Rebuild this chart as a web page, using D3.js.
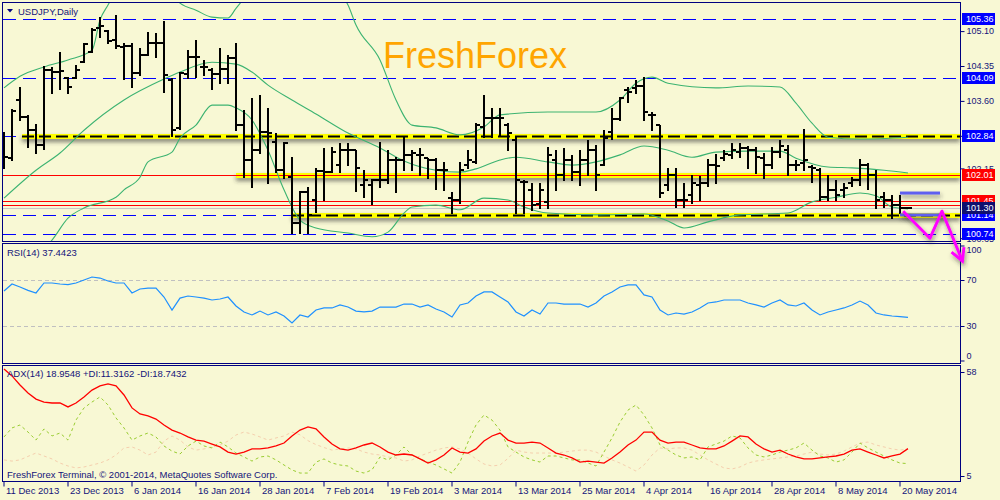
<!DOCTYPE html>
<html><head><meta charset="utf-8">
<script src="https://cdn.jsdelivr.net/npm/d3@7"></script>
<style>html,body{margin:0;padding:0;background:#F8F8D4;} svg{display:block;font-family:"Liberation Sans",Arial,sans-serif;}</style>
</head><body><svg id="c" width="1000" height="500"></svg>
<script>
// ---------------- DATA ----------------
const symbolTitle = "USDJPY,Daily";
const watermark = "FreshForex";
const copyright = "FreshForex Terminal, \u00A9 2001-2014, MetaQuotes Software Corp.";
const rsiTitle = "RSI(14) 37.4423";
const adxTitle = "ADX(14) 18.9548 +DI:11.3162 -DI:18.7432";

const xTickIdx = [0,8,16,24,32,40,48,56,64,72,80,88,96,104,112];
const xTickLabels = ["11 Dec 2013","23 Dec 2013","6 Jan 2014","16 Jan 2014","28 Jan 2014","7 Feb 2014","19 Feb 2014","3 Mar 2014","13 Mar 2014","25 Mar 2014","4 Apr 2014","16 Apr 2014","28 Apr 2014","8 May 2014","20 May 2014"];
const priceTicks = [105.10,104.35,103.60,102.85,102.15,100.65];
const rsiTicks = [100,70,30,0];
const rsiLevels = [70,30];
const adxTicks = [58,5];

const highs = [102.93,103.42,103.90,103.30,103.10,104.35,104.33,104.65,104.11,104.37,
104.84,105.16,105.40,105.12,105.44,104.84,104.84,104.74,105.08,105.06,
105.31,104.09,104.22,104.69,104.91,104.48,104.31,104.74,104.58,104.84,
103.40,103.66,103.73,103.45,102.91,102.72,102.39,101.66,101.75,102.16,
102.59,102.61,102.69,102.69,102.54,102.11,101.92,102.72,102.54,102.39,
102.85,102.54,102.59,102.37,102.37,102.29,101.64,102.29,102.54,103.12,
103.73,103.45,103.45,103.12,102.82,101.90,101.84,101.84,102.61,102.54,
102.59,102.44,102.54,102.76,102.65,102.97,103.45,103.68,103.90,104.05,
104.11,103.36,103.08,102.16,102.16,101.84,102.01,101.99,102.35,102.46,
102.54,102.69,102.69,102.63,102.61,102.48,102.61,102.76,102.65,102.33,
103.00,102.22,102.16,102.01,101.90,101.84,101.96,102.35,102.26,102.11,
101.64,101.58,101.58,101.32];
const lows = [102.16,102.33,103.19,102.61,102.48,102.57,103.77,103.85,103.77,104.09,
104.43,104.65,104.97,104.84,104.74,104.07,103.90,104.16,104.58,104.54,
103.79,102.85,103.00,104.09,104.11,104.16,103.85,103.98,103.98,102.97,
101.96,101.75,102.48,101.84,102.07,101.94,100.76,100.76,100.76,101.21,
101.47,102.07,102.07,102.22,101.66,101.53,101.38,101.75,101.84,101.64,
102.11,102.11,102.01,101.94,101.71,101.69,101.19,101.41,102.16,102.26,
102.82,102.82,102.87,102.54,101.19,101.19,101.26,101.30,101.30,101.69,
101.90,101.90,101.79,102.01,101.69,102.22,102.78,103.19,103.57,103.77,
103.19,102.97,101.53,101.69,101.32,101.32,101.41,101.47,101.77,101.84,
102.33,102.37,102.39,102.16,102.05,101.94,102.16,102.39,102.01,102.11,
102.11,101.86,101.47,101.47,101.47,101.53,101.77,101.79,101.71,101.30,
101.32,101.08,101.19,101.29];
const opens = [102.54,102.37,103.62,103.25,102.97,102.65,104.26,104.22,104.09,104.09,
104.43,104.65,105.16,105.10,104.91,104.76,104.78,104.20,104.58,104.84,
104.84,104.05,103.02,104.18,104.54,104.33,104.26,104.18,104.28,104.52,
103.08,102.33,102.54,102.93,102.72,102.11,101.96,100.98,101.64,101.47,
102.09,102.07,102.22,102.54,102.54,101.79,101.79,101.90,101.90,102.33,
102.33,102.44,102.44,102.37,102.33,102.11,101.51,101.47,102.22,102.29,
103.04,103.23,103.23,103.08,102.76,101.86,101.69,101.38,101.43,102.33,
102.01,102.33,102.07,102.33,102.54,102.22,102.93,103.21,103.83,103.88,
103.92,103.30,103.08,101.79,102.01,101.47,101.58,101.79,101.84,102.22,
102.37,102.44,102.50,102.59,102.54,102.37,102.22,102.50,102.54,102.22,
102.26,102.18,102.11,101.53,101.69,101.69,101.84,101.90,102.22,102.01,
101.53,101.47,101.36,101.30];
const closes = [102.39,103.38,103.25,102.97,102.65,104.26,104.22,104.24,103.90,104.26,
104.82,105.12,105.21,104.89,104.78,104.78,104.20,104.58,104.84,104.84,
104.16,102.97,104.20,104.54,104.54,104.33,104.18,104.28,104.52,103.08,
102.33,102.54,102.93,102.91,102.11,102.69,100.98,101.64,101.15,102.09,
102.07,102.50,102.54,102.54,102.16,101.90,101.90,101.90,102.33,102.33,
102.44,102.48,102.44,102.33,102.11,102.11,101.47,102.11,102.33,103.08,
103.23,103.23,103.23,102.91,101.90,101.86,101.36,101.69,102.44,102.01,
102.33,102.07,102.33,102.54,102.01,102.80,103.21,103.66,103.79,103.92,
103.36,103.30,101.62,102.01,101.47,101.47,101.84,101.84,102.22,102.20,
102.46,102.54,102.59,102.54,102.39,102.22,102.50,102.63,102.22,102.22,
102.33,102.16,101.53,101.69,101.58,101.73,101.90,102.22,102.01,101.47,
101.47,101.36,101.30,101.30];

// Bollinger bands: [bar index, price]
const bbUpper = [[0,103.88],[2,104.13],[5,104.33],[8,104.48],[11,104.69],[12,105.34],[13,105.66],[15,106.2],[18,106.3],[21,105.87],[22,105.7],[24,105.55],[26,105.4],[28,105.38],[29,105.59],[31,105.98],[37,106.41],[41,106.09],[43,105.66],[44,105.23],[47,104.48],[49,103.62],[51,103.08],[54,103.02],[57,102.87],[60,103.04],[62,103.3],[68,103.36],[74,103.36],[77,103.62],[79,103.98],[81,104.11],[83,103.98],[89,103.88],[93,103.92],[97,103.9],[99,103.55],[101,103.12],[103,102.82],[107,102.78],[113,102.82]];
const bbMiddle = [[0,101.51],[4,102.11],[7,102.48],[10,102.97],[15,103.62],[20,104.07],[22,104.22],[26,104.43],[29,104.39],[31,104.22],[33,103.94],[36,103.62],[39,103.32],[43,102.91],[47,102.59],[50,102.31],[54,102.11],[57,102.07],[59,102.14],[62,102.33],[64,102.39],[68,102.29],[71,102.22],[74,102.29],[77,102.44],[80,102.63],[83,102.54],[86,102.39],[89,102.5],[93,102.52],[97,102.52],[99,102.37],[103,102.18],[106,102.16],[110,102.11],[113,102.05]];
const bbLower = [[0,99.75],[3,100.14],[6,100.61],[8,101.08],[10,101.3],[14,101.53],[15,101.69],[17,101.96],[18,102.29],[21,102.5],[22,102.8],[24,103.08],[26,103.51],[28,103.51],[29,103.45],[31,103.19],[33,102.54],[35,101.69],[37,101.04],[39,100.87],[43,100.76],[46,100.68],[48,100.78],[50,101.19],[51,101.32],[54,101.36],[57,101.26],[60,101.51],[63,101.47],[65,101.32],[68,101.19],[74,101.15],[80,101.17],[83,101.02],[85,100.87],[88,101.0],[92,101.15],[98,101.19],[101,101.43],[104,101.53],[107,101.62],[109,101.56],[111,101.32],[113,101.28]];

const rsi = [60.4,66.5,63.9,61.0,58.7,67.4,67.4,66.5,66.0,67.4,
70.0,72.6,71.7,69.1,67.4,67.4,58.7,62.2,63.0,63.0,
55.2,43.9,54.3,56.1,55.2,54.3,52.6,53.5,55.2,47.4,
42.2,39.6,43.0,39.6,42.2,38.7,32.6,39.6,37.8,43.9,
45.7,45.7,48.3,46.5,43.0,42.2,43.0,46.5,46.5,46.5,
49.1,49.1,46.5,48.3,44.8,42.2,37.8,48.3,50.0,56.1,
59.6,59.6,55.2,50.9,42.2,38.7,43.9,40.4,50.0,50.0,
49.1,49.1,49.1,46.5,50.0,56.1,59.6,63.9,65.7,65.7,
57.0,55.2,43.9,39.6,41.3,40.4,42.2,45.7,50.0,50.9,
52.6,52.6,52.6,50.0,48.3,46.5,50.0,52.6,48.3,47.4,
50.0,43.9,39.6,42.2,43.9,45.7,48.3,51.7,48.3,41.3,
39.6,38.7,38.2,37.44];
const adx = [59.5,56.0,51.4,47.3,44.2,42.7,42.2,42.2,40.2,42.2,
45.3,48.8,50.9,51.9,50.9,46.3,39.7,36.6,35.6,34.0,
31.0,28.4,26.9,24.9,23.3,22.8,21.3,19.8,17.2,16.2,
17.2,18.8,18.8,19.3,20.3,21.8,25.4,28.4,30.0,29.0,
24.9,21.3,18.8,18.2,19.3,20.8,21.8,19.8,17.2,15.7,
16.2,15.7,13.7,11.6,13.2,15.7,19.3,17.2,16.7,18.8,
22.8,25.4,26.9,23.3,21.8,21.8,22.3,21.8,19.3,16.7,
15.7,14.2,12.1,12.6,12.1,11.6,14.2,17.2,20.8,23.3,
27.4,27.4,23.3,21.8,22.3,22.3,20.8,19.3,18.8,18.8,
20.3,22.8,25.4,24.9,21.3,18.8,17.2,18.2,16.2,14.7,
13.7,13.7,14.2,14.7,15.2,16.2,18.2,18.8,17.2,15.7,
14.2,15.2,16.2,18.95];
const plusDI = [24.9,29.5,31.0,27.4,23.3,29.0,25.4,26.9,23.3,33.5,
39.7,42.7,45.3,41.2,34.6,29.5,23.3,25.4,26.9,24.9,
20.3,17.7,16.2,20.3,22.8,20.3,19.3,22.3,19.8,16.7,
14.7,12.6,14.7,15.2,13.2,10.6,8.1,6.5,6.5,12.1,
13.7,11.6,10.6,10.1,7.5,6.5,8.1,14.7,13.2,15.7,
19.8,15.7,13.7,12.1,10.6,8.6,6.5,12.1,22.3,31.0,
36.1,33.5,28.4,19.8,17.2,14.7,13.2,12.1,15.2,15.2,
14.2,13.2,13.2,11.6,10.1,17.2,24.4,32.5,38.6,41.2,
36.1,29.5,20.8,18.2,15.7,14.2,14.7,13.2,19.8,21.3,
22.8,25.4,24.4,19.3,15.7,14.7,15.7,17.2,18.2,19.3,
21.8,18.2,15.2,14.2,12.1,13.2,17.2,21.8,19.3,17.2,
15.2,13.2,11.6,11.32];
const minusDI = [13.2,12.6,13.2,15.0,16.7,15.2,13.7,11.6,10.1,9.1,
9.6,10.6,11.6,13.2,15.7,19.3,19.8,18.2,15.7,17.2,
22.8,25.4,23.3,19.8,18.2,18.8,19.8,20.8,22.8,25.9,
27.4,26.4,24.9,23.3,24.4,25.4,27.4,26.0,23.0,21.0,
19.5,18.2,18.8,19.3,18.8,17.2,16.2,15.7,14.7,14.2,
12.6,13.2,15.2,16.7,18.2,19.3,19.8,18.8,16.7,13.7,
11.1,10.1,10.6,14.0,18.2,17.2,16.7,16.7,16.7,16.7,
17.2,17.7,18.2,18.2,17.2,15.2,13.2,11.6,9.6,7.5,
10.6,15.7,19.3,18.8,19.3,19.3,18.2,15.7,13.2,11.1,
9.1,8.6,9.6,11.6,12.6,13.2,13.7,14.2,14.7,15.2,
16.2,17.2,16.2,15.7,16.2,17.7,19.8,21.8,22.3,20.8,
19.8,18.8,18.2,18.74];

// horizontal levels
const blueLevels = [105.36,104.09,102.84,101.14,100.74];
const redLevels = [102.01,101.45,101.36];
const bidLevel = 101.30;
const yellowLevels = [102.84,102.01,101.14];
const yellowStartIdx = [2.25,29,36];
const markedLevels = [105.36,104.09,102.84,102.01,101.45,101.14,101.30,100.74];
const markedKinds  = ["blue","blue","blue","red","red","blue","bid","blue"];
// drawn forecast objects [bar index, price]
const boxTop = [[112,101.62],[117,101.62]];
const boxBottom = [[112,101.15],[117,101.15]];
const zigzag = [[112.4,101.23],[115.75,100.65],[117.25,101.23],[119.8,100.16]];

// ---------------- DRAW ----------------
const BG = '#F8F8D4', NAVY = '#000080', TXT = '#14147a';
const svg = d3.select('#c');
svg.append('rect').attr('width',1000).attr('height',500).attr('fill',BG);
const defs = svg.append('defs');
function clip(id,x0,y0,w,h){defs.append('clipPath').attr('id',id).append('rect').attr('x',x0).attr('y',y0).attr('width',w).attr('height',h);}
clip('cMain',3,3,957,238); clip('cRsi',3,244,957,119); clip('cAdx',3,366,957,115);
function shadow(id,dx,dy,sd,op){
  const f = defs.append('filter').attr('id',id).attr('filterUnits','userSpaceOnUse')
    .attr('x',0).attr('y',0).attr('width',1000).attr('height',500);
  f.append('feDropShadow').attr('dx',dx).attr('dy',dy).attr('stdDeviation',sd).attr('flood-color','#303030').attr('flood-opacity',op);
}
shadow('sh',0,3,2.2,0.6);
shadow('sh2',1,3,2,0.5);

const x = d3.scaleLinear().domain([0,112]).range([4,900]);
const yP = d3.scaleLinear().domain([100.74,105.36]).range([234,19]);
const yR = d3.scaleLinear().domain([0,100]).range([360.5,245.5]);
const yA = d3.scaleLinear().domain([5,58]).range([476,372]);
const R = v => Math.round(v);

// main panel
const gM = svg.append('g').attr('clip-path','url(#cMain)');
gM.selectAll('line.bl').data(blueLevels).join('line')
  .attr('x1',3).attr('x2',960).attr('y1',d=>R(yP(d))+0.5).attr('y2',d=>R(yP(d))+0.5)
  .attr('stroke','#0000ff').attr('stroke-width',1).attr('stroke-dasharray','13,7');
gM.selectAll('line.rl').data(redLevels).join('line')
  .attr('x1',3).attr('x2',960).attr('y1',d=>R(yP(d))+0.5).attr('y2',d=>R(yP(d))+0.5)
  .attr('stroke','#ff0000').attr('stroke-width',1);
gM.append('line').attr('x1',3).attr('x2',960).attr('y1',R(yP(bidLevel))+0.5).attr('y2',R(yP(bidLevel))+0.5)
  .attr('stroke','#c8c8c8').attr('stroke-width',1);
// yellow trendlines
yellowLevels.forEach((lv,k)=>{
  const yy = R(yP(lv)), x0 = x(yellowStartIdx[k]);
  gM.append('rect').attr('x',x0).attr('width',960-x0).attr('y',yy-2).attr('height',5)
    .attr('fill','#ffff00').attr('filter','url(#sh)');
  if (k===1) gM.append('line').attr('x1',3).attr('x2',960).attr('y1',yy+0.5).attr('y2',yy+0.5).attr('stroke','#ff0000').attr('stroke-width',1.2);
  else gM.append('line').attr('x1',x0).attr('x2',960).attr('y1',yy+0.5).attr('y2',yy+0.5).attr('stroke','#000').attr('stroke-width',2).attr('stroke-dasharray','12,5');
});
// bollinger
const bbLine = d3.line().x(d=>x(d[0])).y(d=>yP(d[1])).curve(d3.curveMonotoneX);
[bbUpper,bbMiddle,bbLower].forEach(s=>gM.append('path').attr('d',bbLine(s)).attr('fill','none').attr('stroke','#3cb371').attr('stroke-width',1.1));
// bars
const gB = gM.append('g').attr('stroke','#000').attr('stroke-width',2).attr('shape-rendering','crispEdges');
const idx = d3.range(highs.length);
gB.selectAll('line.hl').data(idx).join('line').attr('x1',i=>R(x(i))).attr('x2',i=>R(x(i)))
  .attr('y1',i=>R(yP(highs[i]))).attr('y2',i=>R(yP(lows[i]))+1);
gB.selectAll('line.op').data(idx).join('line').attr('x1',i=>R(x(i))-4).attr('x2',i=>R(x(i)))
  .attr('y1',i=>R(yP(opens[i]))).attr('y2',i=>R(yP(opens[i])));
gB.selectAll('line.cl').data(idx).join('line').attr('x1',i=>R(x(i))).attr('x2',i=>R(x(i))+4)
  .attr('y1',i=>R(yP(closes[i]))).attr('y2',i=>R(yP(closes[i])));
// forecast box lines
[boxTop,boxBottom].forEach(s=>{
  const yy = yP(s[0][1]);
  gM.append('rect').attr('x',x(s[0][0])).attr('width',x(s[1][0])-x(s[0][0])).attr('y',yy-1.5).attr('height',3)
    .attr('fill','#5f5ff0').attr('filter','url(#sh2)');
});

// watermark
svg.append('text').attr('x',383).attr('y',68).attr('font-size',36).attr('fill','#ffa500').text(watermark);

// panel borders
svg.append('rect').attr('x',2.5).attr('y',2.5).attr('width',958).attr('height',239).attr('fill','none').attr('stroke',NAVY);
svg.append('rect').attr('x',2.5).attr('y',243.5).attr('width',958).attr('height',120).attr('fill','none').attr('stroke',NAVY);
svg.append('rect').attr('x',2.5).attr('y',365.5).attr('width',958).attr('height',116).attr('fill','none').attr('stroke',NAVY);

// title
svg.append('path').attr('d','M7,9 L13,9 L10,12.5 Z').attr('fill',NAVY);
svg.append('text').attr('x',18).attr('y',15).attr('font-size',9.5).attr('fill',TXT).text(symbolTitle);

// price axis
const ax = svg.append('g').attr('transform','translate(960.5,0)')
  .call(d3.axisRight(yP).tickValues(priceTicks).tickSize(4).tickFormat(d3.format('.2f')));
ax.select('.domain').remove();
ax.selectAll('line').attr('stroke',NAVY);
ax.selectAll('text').attr('x',6).attr('font-size',9).attr('fill',TXT).attr('font-family','"Liberation Sans",Arial,sans-serif');
const kindColor = {blue:'#0000ff', red:'#ff0000', bid:'#10106e'};
markedLevels.forEach((lv,k)=>{
  const yy = R(yP(lv));
  svg.append('rect').attr('x',962).attr('y',yy-6).attr('width',33).attr('height',12).attr('fill',kindColor[markedKinds[k]]);
  svg.append('text').attr('x',966).attr('y',yy).attr('dy','0.35em').attr('font-size',9).attr('fill','#fff').text(lv.toFixed(2));
});

// RSI panel
const gR = svg.append('g').attr('clip-path','url(#cRsi)');
gR.selectAll('line.lv').data(rsiLevels).join('line').attr('x1',3).attr('x2',960)
  .attr('y1',d=>R(yR(d))+0.5).attr('y2',d=>R(yR(d))+0.5).attr('stroke','#c0c0c0').attr('stroke-dasharray','4,3');
gR.append('path').attr('d',d3.line().x((d,i)=>x(i)).y(d=>yR(d))(rsi)).attr('fill','none').attr('stroke','#1e90ff').attr('stroke-width',1.2);
svg.append('text').attr('x',7).attr('y',256).attr('font-size',9.5).attr('fill',TXT).text(rsiTitle);
const axR = svg.append('g').attr('transform','translate(960.5,0)')
  .call(d3.axisRight(yR).tickValues(rsiTicks).tickSize(4).tickFormat(d3.format('d')));
axR.select('.domain').remove(); axR.selectAll('line').attr('stroke',NAVY);
axR.selectAll('text').attr('x',6).attr('font-size',9).attr('fill',TXT).attr('font-family','"Liberation Sans",Arial,sans-serif')
  .attr('y',d=>d===100?4:(d===0?-5:0));

// ADX panel
const gA = svg.append('g').attr('clip-path','url(#cAdx)');
const la = d3.line().x((d,i)=>x(i)).y(d=>yA(d));
gA.append('path').attr('d',la(minusDI)).attr('fill','none').attr('stroke','#f5cfae').attr('stroke-width',1).attr('stroke-dasharray','3,3');
gA.append('path').attr('d',la(plusDI)).attr('fill','none').attr('stroke','#9acd32').attr('stroke-width',1).attr('stroke-dasharray','3,3');
gA.append('path').attr('d',la(adx)).attr('fill','none').attr('stroke','#ff0000').attr('stroke-width',1.3);
svg.append('text').attr('x',7).attr('y',377).attr('font-size',9.5).attr('fill',TXT).text(adxTitle);
svg.append('text').attr('x',7).attr('y',478).attr('font-size',9.5).attr('fill',TXT).text(copyright);
const axA = svg.append('g').attr('transform','translate(960.5,0)')
  .call(d3.axisRight(yA).tickValues(adxTicks).tickSize(4).tickFormat(d3.format('d')));
axA.select('.domain').remove(); axA.selectAll('line').attr('stroke',NAVY);
axA.selectAll('text').attr('x',6).attr('font-size',9).attr('fill',TXT).attr('font-family','"Liberation Sans",Arial,sans-serif');

// time axis
const axX = svg.append('g').attr('transform','translate(-0.5,481.5)')
  .call(d3.axisBottom(x).tickValues(xTickIdx).tickSize(5).tickFormat((d,i)=>xTickLabels[i]));
axX.select('.domain').remove(); axX.selectAll('line').attr('stroke',NAVY);
axX.selectAll('text').attr('text-anchor','start').attr('x',2).attr('y',6).attr('dy','0.71em')
  .attr('font-size',9.5).attr('fill',TXT).attr('font-family','"Liberation Sans",Arial,sans-serif');

// magenta zigzag arrow
const zz = zigzag.map(d=>[x(d[0]),yP(d[1])]);
const last = zz[zz.length-1], prev = zz[zz.length-2];
const ang = Math.atan2(last[1]-prev[1], last[0]-prev[0]);
const hl = 14, hw = 0.5;
const h1 = [last[0]-hl*Math.cos(ang-hw), last[1]-hl*Math.sin(ang-hw)];
const h2 = [last[0]-hl*Math.cos(ang+hw), last[1]-hl*Math.sin(ang+hw)];
const ga = svg.append('g').attr('filter','url(#sh2)');
ga.append('path').attr('d',d3.line()(zz)).attr('fill','none').attr('stroke','#ff00ff').attr('stroke-width',3).attr('stroke-linejoin','round');
ga.append('path').attr('d',d3.line()([h1,last,h2])).attr('fill','none').attr('stroke','#ff00ff').attr('stroke-width',3);
</script></body></html>
